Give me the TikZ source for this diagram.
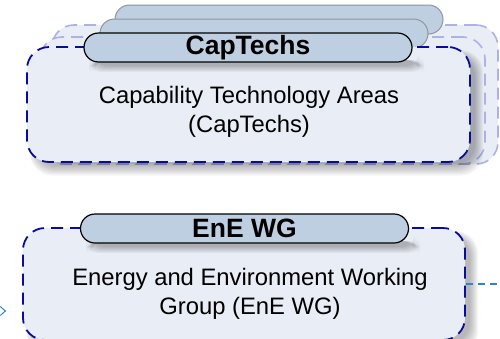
\documentclass[tikz,border=0pt]{standalone}
\usepackage{fontspec}
\setmainfont{Liberation Sans}
\usetikzlibrary{shapes.misc,arrows.meta}
\definecolor{boxfill}{HTML}{E9EDF5}
\definecolor{tabfill}{HTML}{BFCFE2}
\definecolor{navy}{HTML}{0A0A9C}
\definecolor{pale}{HTML}{AEB2E2}
\definecolor{conncol}{HTML}{2A86D4}
\definecolor{tabgray}{HTML}{8E959E}
\tikzset{
  bigbox/.style={rectangle, rounded corners=22pt, fill=boxfill, draw=navy, line width=1.8pt, dash pattern=on 12pt off 7pt, inner sep=0pt},
  palebox/.style={rectangle, rounded corners=22pt, fill=boxfill, draw=pale, line width=1.6pt, dash pattern=on 12pt off 7pt, inner sep=0pt},
  fronttab/.style={rounded rectangle, fill=tabfill, draw=black, line width=1.2pt, minimum width=328pt, minimum height=29pt, inner sep=0pt, font=\fontsize{26.5}{28}\selectfont\bfseries},
  backtab/.style={rounded rectangle, fill=tabfill, draw=tabgray, line width=1pt, minimum width=328pt, minimum height=29pt, inner sep=0pt},
  bodytext/.style={align=center, font=\fontsize{23.8}{29}\selectfont, inner sep=0pt},
  conn/.style={draw=conncol, line width=1.3pt, dash pattern=on 7pt off 5pt},
}
\begin{document}
\begin{tikzpicture}[x=1pt,y=-1pt]
\useasboundingbox (0,0) rectangle (500,338);
\clip (0,0) rectangle (500,338);

% ---- top group: back boxes
\node[palebox, minimum width=446pt, minimum height=139pt] (back2) at (275,94.5) {};
\node[palebox, minimum width=445pt, minimum height=127pt] (back1) at (262.5,100.5) {};
% back tabs
\node[backtab] (tab3) at (279,19.5) {};
\node[backtab] (tab2) at (264,33.5) {};
% shadow of front box
\foreach \k in {0,...,8}
  \fill[black, opacity=0.035, rounded corners=22pt] (27+8-\k*0.6,47+8-\k*0.6) rectangle (470+5+\k,162+4+\k*1.2);
% front box
\node[bigbox, minimum width=443pt, minimum height=115pt] (capbox) at (248.5,104.5) {};
% tab shadow
\foreach \k in {0,...,6}
  \fill[black, opacity=0.04, rounded corners=12pt] (95-\k,60) rectangle (418+\k,66+\k);
\node[fronttab] (captab) at (248,47.5) {CapTechs};
\node[bodytext] (captext) at (249,112) {Capability Technology Areas\\(CapTechs)};

% ---- bottom group
\foreach \k in {0,...,8}
  \fill[black, opacity=0.035, rounded corners=22pt] (23+8-\k*0.6,228+8-\k*0.6) rectangle (465+5+\k,340+4+\k*1.2);
\node[bigbox, minimum width=442pt, minimum height=112pt] (enebox) at (244,284) {};
\foreach \k in {0,...,6}
  \fill[black, opacity=0.04, rounded corners=12pt] (92-\k,241) rectangle (414+\k,247+\k);
\node[fronttab] (enetab) at (244.5,228.5) {EnE WG};
\node[bodytext] (enetext) at (250,294) {Energy and Environment Working\\Group (EnE WG)};

% ---- connectors
\coordinate (rightend) at (510,284);
\draw[conn] (enebox.east) -- (rightend);
\coordinate (leftstart) at (-20,311);
\draw[conn, -{Straight Barb[length=5pt,width=9pt,line width=1pt]}, shorten >=16pt] (leftstart) -- (enebox.west |- leftstart);
\coordinate (bottomstart) at (243,350);
\draw[conn] (bottomstart) -- (enebox.south -| bottomstart);
\end{tikzpicture}
\end{document}
